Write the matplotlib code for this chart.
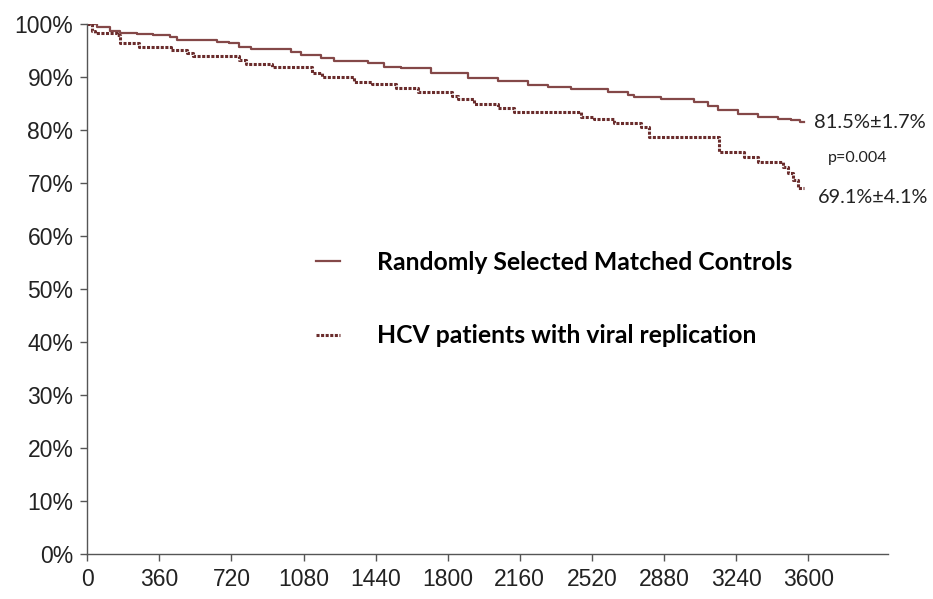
import matplotlib.pyplot as plt
from matplotlib.ticker import FuncFormatter

# Kaplan-Meier style survival curves
ctrl_days = [0, 50, 115, 165, 250, 330, 415, 450, 650, 710, 760, 815, 1015, 1065, 1165, 1230,
             1400, 1480, 1565, 1715, 1900, 2050, 2200, 2300, 2415, 2600, 2700, 2730,
             2865, 3030, 3100, 3150, 3250, 3350, 3450, 3515, 3560, 3580]
ctrl_surv = [100, 99.4, 98.8, 98.3, 98.1, 97.9, 97.6, 97.0, 96.7, 96.5, 95.7, 95.3, 94.8, 94.2,
             93.6, 93.1, 92.7, 91.9, 91.7, 90.8, 89.9, 89.3, 88.5, 88.1, 87.8, 87.2, 86.7, 86.3,
             85.9, 85.3, 84.5, 83.8, 83.1, 82.5, 82.2, 81.9, 81.5, 81.5]

hcv_days = [0, 25, 40, 150, 165, 260, 420, 500, 530, 760, 790, 920, 1120, 1170, 1330,
            1420, 1540, 1650, 1820, 1850, 1930, 2050, 2130, 2465, 2530, 2630, 2765, 2805,
            3155, 3280, 3350, 3475, 3500, 3525, 3550, 3580]
hcv_surv = [100, 98.8, 98.3, 98.0, 96.4, 95.8, 95.2, 94.6, 94.1, 93.3, 92.5, 92.0, 90.9, 90.1, 89.2,
            88.8, 87.9, 87.3, 86.4, 85.9, 85.0, 84.2, 83.5, 82.5, 82.1, 81.4, 80.6, 78.8,
            75.9, 75.0, 74.0, 73.1, 71.9, 70.6, 69.1, 69.1]

ctrl_label = 'Randomly Selected Matched Controls'
hcv_label = 'HCV patients with viral replication'
ctrl_text = '81.5%\u00b11.7%'
hcv_text = '69.1%\u00b14.1%'
p_text = 'p=0.004'

xticks = list(range(0, 3601, 360))
yticks = list(range(0, 101, 10))

fig = plt.figure(figsize=(9.33, 5.99), dpi=100)
ax = fig.add_axes([0.0936, 0.0746, 0.8584, 0.8848])

ax.plot(ctrl_days, ctrl_surv, drawstyle='steps-post', color='#844848', lw=1.6, label=ctrl_label)
ax.plot(hcv_days, hcv_surv, drawstyle='steps-post', color='#6a2c2c', lw=2.2,
        linestyle=(0, (1, 0.5)), label=hcv_label)

ax.set_xlim(0, 4000)
ax.set_ylim(0, 100)
ax.set_xticks(xticks)
ax.set_yticks(yticks)
ax.yaxis.set_major_formatter(FuncFormatter(lambda v, p: f'{v:.0f}%'))

for s in ['top', 'right']:
    ax.spines[s].set_visible(False)
for s in ['left', 'bottom']:
    ax.spines[s].set_color('#555555')
    ax.spines[s].set_linewidth(1.0)
ax.tick_params(direction='out', length=5, width=1, color='#555555',
               labelsize=16.5, labelcolor='#222222')
ax.tick_params(axis='y', pad=5)
ax.tick_params(axis='x', pad=5)
for lab in ax.get_xticklabels() + ax.get_yticklabels():
    lab.set_family('Liberation Sans')

ann_font = 'Lato'
ax.annotate(ctrl_text, (ctrl_days[-1], ctrl_surv[-1]), xytext=(7, 0), textcoords='offset points',
            va='center', ha='left', fontsize=14.5, family=ann_font, color='#222222')
ax.annotate(hcv_text, (hcv_days[-1], hcv_surv[-1]), xytext=(10, -7), textcoords='offset points',
            va='center', ha='left', fontsize=14.3, family=ann_font, color='#222222')
ax.annotate(p_text, (ctrl_days[-1], ctrl_surv[-1]), xytext=(17, -26), textcoords='offset points',
            va='center', ha='left', fontsize=11.5, family=ann_font, color='#222222')

leg = ax.legend(loc='upper left', bbox_to_anchor=(0.258, 0.615), frameon=False,
                handlelength=0.95, handletextpad=1.5, labelspacing=2.05,
                prop={'family': ann_font, 'weight': 'bold', 'size': 17.8})

fig.savefig('out.png', dpi=100)
